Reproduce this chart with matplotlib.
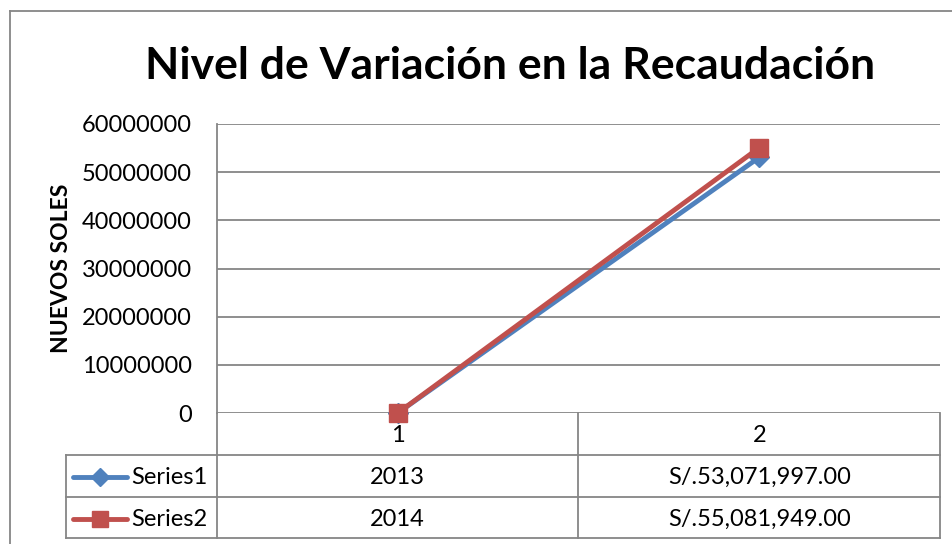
import matplotlib.pyplot as plt
from matplotlib.lines import Line2D

# data (Excel style line chart with data table)
categories = ['1', '2']
series_names = ['Series1', 'Series2']
series1 = [2013, 53071997]
series2 = [2014, 55081949]
table_row1 = ['2013', 'S/.53,071,997.00']
table_row2 = ['2014', 'S/.55,081,949.00']
yticks = [0, 10000000, 20000000, 30000000, 40000000, 50000000, 60000000]

colors = ['#4F81BD', '#C0504D']
markers = ['D', 's']
grid_col = '#868686'

plt.rcParams['font.family'] = ['Lato', 'DejaVu Sans']

W, H = 953, 544
fig = plt.figure(figsize=(W / 100, H / 100), dpi=100)

def fx(px):
    return px / W

def fy(py):
    return 1 - py / H

ax = fig.add_axes([fx(217), fy(413), fx(940) - fx(217), fy(124) - fy(413)])
xs = list(range(1, len(categories) + 1))
for vals, c, m in zip([series1, series2], colors, markers):
    ax.plot(xs, vals, color=c, lw=3.5, marker=m, ms=13 if m == 's' else 10,
            clip_on=False, zorder=3)

ax.set_xlim(0.5, len(categories) + 0.5)
ax.set_ylim(0, 60000000)
ax.set_yticks(yticks)
ax.set_yticklabels([str(v) for v in yticks], fontsize=17)
ax.set_xticks([])
ax.yaxis.grid(True, color=grid_col, lw=1.3)
ax.set_axisbelow(True)
for s in ['top', 'right', 'bottom']:
    ax.spines[s].set_visible(False)
ax.spines['left'].set_color(grid_col)
ax.spines['left'].set_linewidth(1.3)
ax.tick_params(axis='y', length=0, pad=18)

# title and axis label
fig.text(fx(510), fy(79), 'Nivel de Variación en la Recaudación', ha='center',
         va='baseline', fontsize=32, fontweight='bold')
fig.text(fx(62), fy(268), 'NUEVOS SOLES', rotation=90, ha='center', va='center',
         fontsize=16.5, fontweight='bold')

# data table below the plot
def cx(i):
    # data x -> figure fraction
    px = ax.transData.transform((i, 0))[0]
    return fig.transFigure.inverted().transform((px, 0))[0]

def hline(x0, x1, y):
    fig.add_artist(Line2D([x0, x1], [fy(y), fy(y)], color=grid_col, lw=1.3,
                          transform=fig.transFigure))

def vline(x, y0, y1):
    fig.add_artist(Line2D([x, x], [fy(y0), fy(y1)], color=grid_col, lw=1.3,
                          transform=fig.transFigure))

left = fx(66)
right = cx(len(categories) + 0.5)
row_y = [413, 455, 497, 538]
for y in row_y[1:]:
    hline(left, right, y)
vline(left, row_y[1], row_y[3])
for i in range(len(categories) + 1):
    vline(cx(i + 0.5), row_y[0], row_y[3])

for i, cat in enumerate(categories):
    fig.text(cx(i + 1), fy(436), cat, ha='center', va='center', fontsize=17)
    fig.text(cx(i + 1), fy(477), table_row1[i], ha='center', va='center', fontsize=17)
    fig.text(cx(i + 1), fy(519), table_row2[i], ha='center', va='center', fontsize=17)

for name, c, m, y in zip(series_names, colors, markers, [477, 519]):
    fig.add_artist(Line2D([fx(73), fx(127)], [fy(y), fy(y)], color=c, lw=3.5,
                          solid_capstyle='round', transform=fig.transFigure))
    fig.add_artist(Line2D([fx(100)], [fy(y)], color=c, marker=m,
                          ms=12 if m == 's' else 9, transform=fig.transFigure))
    fig.text(fx(131), fy(y), name, ha='left', va='center', fontsize=17)

# chart area border
fig.add_artist(Line2D([fx(10), fx(10)], [fy(11), 0], color=grid_col, lw=1.3,
                      transform=fig.transFigure))
fig.add_artist(Line2D([fx(10), 1], [fy(11), fy(11)], color=grid_col, lw=1.3,
                      transform=fig.transFigure))

fig.savefig('out.png', dpi=100)
